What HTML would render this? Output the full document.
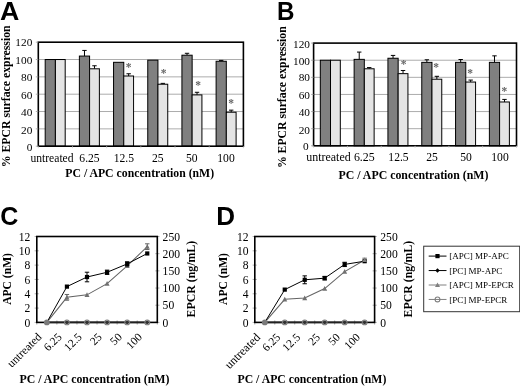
<!DOCTYPE html>
<html lang="en">
<head>
<meta charset="utf-8">
<title>EPCR surface expression and MP-APC / MP-EPCR release</title>
<style>
html,body{margin:0;padding:0;background:#fff;}
body{width:520px;height:387px;overflow:hidden;}
svg{display:block;}
text{font-family:"Liberation Serif",serif;font-size:11.6px;fill:#000;}
text.b{font-weight:bold;}
text.p{font-family:"Liberation Sans",sans-serif;font-weight:bold;}
</style>
</head>
<body>
<svg width="520" height="387" viewBox="0 0 520 387">
<defs><filter id="soft" x="0" y="0" width="520" height="387" filterUnits="userSpaceOnUse"><feGaussianBlur stdDeviation="0.4"/></filter></defs>
<rect x="0" y="0" width="520" height="387" fill="#fff"/>
<g filter="url(#soft)">
<text class="p" style="font-size:25px" transform="translate(0.10 19.60) scale(1.07 1)">A</text>
<line x1="38.30" y1="128.87" x2="243.40" y2="128.87" stroke="#acacac" stroke-width="1"/>
<line x1="38.30" y1="111.53" x2="243.40" y2="111.53" stroke="#acacac" stroke-width="1"/>
<line x1="38.30" y1="94.20" x2="243.40" y2="94.20" stroke="#acacac" stroke-width="1"/>
<line x1="38.30" y1="76.87" x2="243.40" y2="76.87" stroke="#acacac" stroke-width="1"/>
<line x1="38.30" y1="59.53" x2="243.40" y2="59.53" stroke="#acacac" stroke-width="1"/>
<rect x="45.19" y="59.53" width="10.20" height="86.67" fill="#808080" stroke="#000" stroke-width="1"/>
<rect x="55.39" y="59.53" width="9.80" height="86.67" fill="#e4e4e4" stroke="#000" stroke-width="1"/>
<line x1="84.47" y1="56.07" x2="84.47" y2="50.43" stroke="#000" stroke-width="1"/>
<line x1="82.27" y1="50.43" x2="86.67" y2="50.43" stroke="#000" stroke-width="1"/>
<rect x="79.38" y="56.07" width="10.20" height="90.13" fill="#808080" stroke="#000" stroke-width="1"/>
<line x1="94.48" y1="68.81" x2="94.48" y2="65.77" stroke="#000" stroke-width="1"/>
<line x1="92.28" y1="65.77" x2="96.68" y2="65.77" stroke="#000" stroke-width="1"/>
<rect x="89.58" y="68.81" width="9.80" height="77.39" fill="#e4e4e4" stroke="#000" stroke-width="1"/>
<rect x="113.56" y="62.31" width="10.20" height="83.89" fill="#808080" stroke="#000" stroke-width="1"/>
<line x1="128.66" y1="76.00" x2="128.66" y2="73.75" stroke="#000" stroke-width="1"/>
<line x1="126.46" y1="73.75" x2="130.86" y2="73.75" stroke="#000" stroke-width="1"/>
<rect x="123.76" y="76.00" width="9.80" height="70.20" fill="#e4e4e4" stroke="#000" stroke-width="1"/>
<rect x="147.74" y="60.14" width="10.20" height="86.06" fill="#808080" stroke="#000" stroke-width="1"/>
<line x1="162.84" y1="84.23" x2="162.84" y2="83.37" stroke="#000" stroke-width="1"/>
<line x1="160.64" y1="83.37" x2="165.04" y2="83.37" stroke="#000" stroke-width="1"/>
<rect x="157.94" y="84.23" width="9.80" height="61.97" fill="#e4e4e4" stroke="#000" stroke-width="1"/>
<line x1="187.03" y1="55.20" x2="187.03" y2="53.29" stroke="#000" stroke-width="1"/>
<line x1="184.83" y1="53.29" x2="189.22" y2="53.29" stroke="#000" stroke-width="1"/>
<rect x="181.93" y="55.20" width="10.20" height="91.00" fill="#808080" stroke="#000" stroke-width="1"/>
<line x1="197.03" y1="94.89" x2="197.03" y2="92.29" stroke="#000" stroke-width="1"/>
<line x1="194.83" y1="92.29" x2="199.22" y2="92.29" stroke="#000" stroke-width="1"/>
<rect x="192.12" y="94.89" width="9.80" height="51.31" fill="#e4e4e4" stroke="#000" stroke-width="1"/>
<line x1="221.21" y1="61.27" x2="221.21" y2="60.40" stroke="#000" stroke-width="1"/>
<line x1="219.01" y1="60.40" x2="223.41" y2="60.40" stroke="#000" stroke-width="1"/>
<rect x="216.11" y="61.27" width="10.20" height="84.93" fill="#808080" stroke="#000" stroke-width="1"/>
<line x1="231.21" y1="112.23" x2="231.21" y2="110.15" stroke="#000" stroke-width="1"/>
<line x1="229.01" y1="110.15" x2="233.41" y2="110.15" stroke="#000" stroke-width="1"/>
<rect x="226.31" y="112.23" width="9.80" height="33.97" fill="#e4e4e4" stroke="#000" stroke-width="1"/>
<text class="b" x="128.70" y="70.90" text-anchor="middle" style="font-size:11.5px;fill:#666">*</text>
<text class="b" x="163.50" y="76.90" text-anchor="middle" style="font-size:11.5px;fill:#666">*</text>
<text class="b" x="198.00" y="88.50" text-anchor="middle" style="font-size:11.5px;fill:#666">*</text>
<text class="b" x="231.20" y="106.50" text-anchor="middle" style="font-size:11.5px;fill:#666">*</text>
<rect x="38.30" y="42.20" width="205.10" height="104.00" fill="none" stroke="#000" stroke-width="1.6"/>
<line x1="35.80" y1="146.20" x2="38.30" y2="146.20" stroke="#999" stroke-width="0.8"/>
<text class="r" x="32.30" y="150.70" text-anchor="end" style="font-size:11.3px">0</text>
<line x1="35.80" y1="128.87" x2="38.30" y2="128.87" stroke="#999" stroke-width="0.8"/>
<text class="r" x="32.30" y="133.67" text-anchor="end" style="font-size:11.3px">20</text>
<line x1="35.80" y1="111.53" x2="38.30" y2="111.53" stroke="#999" stroke-width="0.8"/>
<text class="r" x="32.30" y="116.33" text-anchor="end" style="font-size:11.3px">40</text>
<line x1="35.80" y1="94.20" x2="38.30" y2="94.20" stroke="#999" stroke-width="0.8"/>
<text class="r" x="32.30" y="98.90" text-anchor="end" style="font-size:11.3px">60</text>
<line x1="35.80" y1="76.87" x2="38.30" y2="76.87" stroke="#999" stroke-width="0.8"/>
<text class="r" x="32.30" y="80.87" text-anchor="end" style="font-size:11.3px">80</text>
<line x1="35.80" y1="59.53" x2="38.30" y2="59.53" stroke="#999" stroke-width="0.8"/>
<text class="r" x="32.30" y="64.03" text-anchor="end" style="font-size:11.3px">100</text>
<line x1="35.80" y1="42.20" x2="38.30" y2="42.20" stroke="#999" stroke-width="0.8"/>
<text class="r" x="32.30" y="46.40" text-anchor="end" style="font-size:11.3px">120</text>
<line x1="38.30" y1="146.20" x2="38.30" y2="148.20" stroke="#c8c8c8" stroke-width="0.8"/>
<line x1="72.48" y1="146.20" x2="72.48" y2="148.20" stroke="#c8c8c8" stroke-width="0.8"/>
<line x1="106.67" y1="146.20" x2="106.67" y2="148.20" stroke="#c8c8c8" stroke-width="0.8"/>
<line x1="140.85" y1="146.20" x2="140.85" y2="148.20" stroke="#c8c8c8" stroke-width="0.8"/>
<line x1="175.03" y1="146.20" x2="175.03" y2="148.20" stroke="#c8c8c8" stroke-width="0.8"/>
<line x1="209.22" y1="146.20" x2="209.22" y2="148.20" stroke="#c8c8c8" stroke-width="0.8"/>
<line x1="243.40" y1="146.20" x2="243.40" y2="148.20" stroke="#c8c8c8" stroke-width="0.8"/>
<text class="r" x="52.00" y="161.90" text-anchor="middle">untreated</text>
<text class="r" x="89.50" y="161.90" text-anchor="middle">6.25</text>
<text class="r" x="123.80" y="161.90" text-anchor="middle">12.5</text>
<text class="r" x="157.80" y="161.90" text-anchor="middle">25</text>
<text class="r" x="191.80" y="161.90" text-anchor="middle">50</text>
<text class="r" x="226.00" y="161.90" text-anchor="middle">100</text>
<text class="b" x="65.30" y="177.20" style="font-size:11.75px">PC / APC concentration (nM)</text>
<text class="b" x="10.20" y="96.30" text-anchor="middle" style="font-size:11.75px" transform="rotate(-90 10.20 96.30)">% EPCR surface expression</text>
<text class="p" style="font-size:25px" transform="translate(277.00 19.60) scale(0.97 1)">B</text>
<line x1="313.60" y1="128.68" x2="516.50" y2="128.68" stroke="#acacac" stroke-width="1"/>
<line x1="313.60" y1="111.57" x2="516.50" y2="111.57" stroke="#acacac" stroke-width="1"/>
<line x1="313.60" y1="94.45" x2="516.50" y2="94.45" stroke="#acacac" stroke-width="1"/>
<line x1="313.60" y1="77.33" x2="516.50" y2="77.33" stroke="#acacac" stroke-width="1"/>
<line x1="313.60" y1="60.22" x2="516.50" y2="60.22" stroke="#acacac" stroke-width="1"/>
<rect x="320.31" y="60.22" width="10.20" height="85.58" fill="#808080" stroke="#000" stroke-width="1"/>
<rect x="330.51" y="60.22" width="9.80" height="85.58" fill="#e4e4e4" stroke="#000" stroke-width="1"/>
<line x1="359.23" y1="59.36" x2="359.23" y2="52.09" stroke="#000" stroke-width="1"/>
<line x1="357.03" y1="52.09" x2="361.43" y2="52.09" stroke="#000" stroke-width="1"/>
<rect x="354.13" y="59.36" width="10.20" height="86.44" fill="#808080" stroke="#000" stroke-width="1"/>
<line x1="369.23" y1="68.78" x2="369.23" y2="67.58" stroke="#000" stroke-width="1"/>
<line x1="367.03" y1="67.58" x2="371.43" y2="67.58" stroke="#000" stroke-width="1"/>
<rect x="364.33" y="68.78" width="9.80" height="77.03" fill="#e4e4e4" stroke="#000" stroke-width="1"/>
<line x1="393.04" y1="58.25" x2="393.04" y2="55.42" stroke="#000" stroke-width="1"/>
<line x1="390.84" y1="55.42" x2="395.24" y2="55.42" stroke="#000" stroke-width="1"/>
<rect x="387.94" y="58.25" width="10.20" height="87.55" fill="#808080" stroke="#000" stroke-width="1"/>
<line x1="403.04" y1="73.65" x2="403.04" y2="70.49" stroke="#000" stroke-width="1"/>
<line x1="400.84" y1="70.49" x2="405.24" y2="70.49" stroke="#000" stroke-width="1"/>
<rect x="398.14" y="73.65" width="9.80" height="72.15" fill="#e4e4e4" stroke="#000" stroke-width="1"/>
<line x1="426.86" y1="62.36" x2="426.86" y2="59.79" stroke="#000" stroke-width="1"/>
<line x1="424.66" y1="59.79" x2="429.06" y2="59.79" stroke="#000" stroke-width="1"/>
<rect x="421.76" y="62.36" width="10.20" height="83.44" fill="#808080" stroke="#000" stroke-width="1"/>
<line x1="436.86" y1="79.22" x2="436.86" y2="76.31" stroke="#000" stroke-width="1"/>
<line x1="434.66" y1="76.31" x2="439.06" y2="76.31" stroke="#000" stroke-width="1"/>
<rect x="431.96" y="79.22" width="9.80" height="66.58" fill="#e4e4e4" stroke="#000" stroke-width="1"/>
<line x1="460.68" y1="62.36" x2="460.68" y2="59.53" stroke="#000" stroke-width="1"/>
<line x1="458.48" y1="59.53" x2="462.88" y2="59.53" stroke="#000" stroke-width="1"/>
<rect x="455.57" y="62.36" width="10.20" height="83.44" fill="#808080" stroke="#000" stroke-width="1"/>
<line x1="470.67" y1="82.04" x2="470.67" y2="80.07" stroke="#000" stroke-width="1"/>
<line x1="468.47" y1="80.07" x2="472.87" y2="80.07" stroke="#000" stroke-width="1"/>
<rect x="465.77" y="82.04" width="9.80" height="63.76" fill="#e4e4e4" stroke="#000" stroke-width="1"/>
<line x1="494.49" y1="62.36" x2="494.49" y2="55.85" stroke="#000" stroke-width="1"/>
<line x1="492.29" y1="55.85" x2="496.69" y2="55.85" stroke="#000" stroke-width="1"/>
<rect x="489.39" y="62.36" width="10.20" height="83.44" fill="#808080" stroke="#000" stroke-width="1"/>
<line x1="504.49" y1="101.98" x2="504.49" y2="99.41" stroke="#000" stroke-width="1"/>
<line x1="502.29" y1="99.41" x2="506.69" y2="99.41" stroke="#000" stroke-width="1"/>
<rect x="499.59" y="101.98" width="9.80" height="43.82" fill="#e4e4e4" stroke="#000" stroke-width="1"/>
<text class="b" x="403.50" y="67.50" text-anchor="middle" style="font-size:11.5px;fill:#666">*</text>
<text class="b" x="436.00" y="70.90" text-anchor="middle" style="font-size:11.5px;fill:#666">*</text>
<text class="b" x="470.20" y="77.10" text-anchor="middle" style="font-size:11.5px;fill:#666">*</text>
<text class="b" x="504.40" y="94.60" text-anchor="middle" style="font-size:11.5px;fill:#666">*</text>
<rect x="313.60" y="43.10" width="202.90" height="102.70" fill="none" stroke="#000" stroke-width="1.6"/>
<line x1="311.10" y1="145.80" x2="313.60" y2="145.80" stroke="#999" stroke-width="0.8"/>
<text class="r" x="308.60" y="150.00" text-anchor="end" style="font-size:11.3px">0</text>
<line x1="311.10" y1="128.68" x2="313.60" y2="128.68" stroke="#999" stroke-width="0.8"/>
<text class="r" x="310.00" y="133.68" text-anchor="end" style="font-size:11.3px">20</text>
<line x1="311.10" y1="111.57" x2="313.60" y2="111.57" stroke="#999" stroke-width="0.8"/>
<text class="r" x="310.00" y="116.37" text-anchor="end" style="font-size:11.3px">40</text>
<line x1="311.10" y1="94.45" x2="313.60" y2="94.45" stroke="#999" stroke-width="0.8"/>
<text class="r" x="310.00" y="99.25" text-anchor="end" style="font-size:11.3px">60</text>
<line x1="311.10" y1="77.33" x2="313.60" y2="77.33" stroke="#999" stroke-width="0.8"/>
<text class="r" x="310.00" y="81.33" text-anchor="end" style="font-size:11.3px">80</text>
<line x1="311.10" y1="60.22" x2="313.60" y2="60.22" stroke="#999" stroke-width="0.8"/>
<text class="r" x="310.00" y="64.72" text-anchor="end" style="font-size:11.3px">100</text>
<line x1="311.10" y1="43.10" x2="313.60" y2="43.10" stroke="#999" stroke-width="0.8"/>
<text class="r" x="310.00" y="48.10" text-anchor="end" style="font-size:11.3px">120</text>
<line x1="313.60" y1="145.80" x2="313.60" y2="147.80" stroke="#c8c8c8" stroke-width="0.8"/>
<line x1="347.42" y1="145.80" x2="347.42" y2="147.80" stroke="#c8c8c8" stroke-width="0.8"/>
<line x1="381.23" y1="145.80" x2="381.23" y2="147.80" stroke="#c8c8c8" stroke-width="0.8"/>
<line x1="415.05" y1="145.80" x2="415.05" y2="147.80" stroke="#c8c8c8" stroke-width="0.8"/>
<line x1="448.87" y1="145.80" x2="448.87" y2="147.80" stroke="#c8c8c8" stroke-width="0.8"/>
<line x1="482.68" y1="145.80" x2="482.68" y2="147.80" stroke="#c8c8c8" stroke-width="0.8"/>
<line x1="516.50" y1="145.80" x2="516.50" y2="147.80" stroke="#c8c8c8" stroke-width="0.8"/>
<text class="r" x="328.50" y="161.20" text-anchor="middle" style="font-size:11.95px">untreated</text>
<text class="r" x="364.30" y="161.20" text-anchor="middle" style="font-size:11.9px">6.25</text>
<text class="r" x="398.50" y="161.20" text-anchor="middle">12.5</text>
<text class="r" x="432.00" y="161.20" text-anchor="middle">25</text>
<text class="r" x="466.00" y="161.20" text-anchor="middle">50</text>
<text class="r" x="500.00" y="161.20" text-anchor="middle">100</text>
<text class="b" x="338.50" y="178.60" style="font-size:11.85px">PC / APC concentration (nM)</text>
<text class="b" x="286.20" y="97.20" text-anchor="middle" style="font-size:11.75px" transform="rotate(-90 286.20 97.20)">% EPCR surface expression</text>
<text class="p" style="font-size:25px" transform="translate(0.30 225.20) scale(1.0 1)">C</text>
<line x1="34.60" y1="322.40" x2="38.80" y2="322.40" stroke="#8c8c8c" stroke-width="0.7"/>
<text class="r" x="30.30" y="326.60" text-anchor="end">0</text>
<line x1="34.60" y1="308.08" x2="38.80" y2="308.08" stroke="#8c8c8c" stroke-width="0.7"/>
<text class="r" x="30.30" y="312.28" text-anchor="end">2</text>
<line x1="34.60" y1="293.77" x2="38.80" y2="293.77" stroke="#8c8c8c" stroke-width="0.7"/>
<text class="r" x="30.30" y="297.97" text-anchor="end">4</text>
<line x1="34.60" y1="279.45" x2="38.80" y2="279.45" stroke="#8c8c8c" stroke-width="0.7"/>
<text class="r" x="30.30" y="283.65" text-anchor="end">6</text>
<line x1="34.60" y1="265.13" x2="38.80" y2="265.13" stroke="#8c8c8c" stroke-width="0.7"/>
<text class="r" x="30.30" y="269.33" text-anchor="end">8</text>
<line x1="34.60" y1="250.82" x2="38.80" y2="250.82" stroke="#8c8c8c" stroke-width="0.7"/>
<text class="r" x="30.30" y="255.02" text-anchor="end">10</text>
<line x1="34.60" y1="236.50" x2="38.80" y2="236.50" stroke="#8c8c8c" stroke-width="0.7"/>
<text class="r" x="30.30" y="240.70" text-anchor="end">12</text>
<line x1="155.30" y1="322.40" x2="159.50" y2="322.40" stroke="#8c8c8c" stroke-width="0.7"/>
<text class="r" x="162.60" y="326.60">0</text>
<line x1="155.30" y1="305.22" x2="159.50" y2="305.22" stroke="#8c8c8c" stroke-width="0.7"/>
<text class="r" x="162.60" y="309.42">50</text>
<line x1="155.30" y1="288.04" x2="159.50" y2="288.04" stroke="#8c8c8c" stroke-width="0.7"/>
<text class="r" x="162.60" y="292.24">100</text>
<line x1="155.30" y1="270.86" x2="159.50" y2="270.86" stroke="#8c8c8c" stroke-width="0.7"/>
<text class="r" x="162.60" y="275.06">150</text>
<line x1="155.30" y1="253.68" x2="159.50" y2="253.68" stroke="#8c8c8c" stroke-width="0.7"/>
<text class="r" x="162.60" y="257.88">200</text>
<line x1="155.30" y1="236.50" x2="159.50" y2="236.50" stroke="#8c8c8c" stroke-width="0.7"/>
<text class="r" x="162.60" y="240.70">250</text>
<line x1="36.80" y1="320.40" x2="36.80" y2="324.60" stroke="#8c8c8c" stroke-width="0.7"/>
<line x1="56.88" y1="320.40" x2="56.88" y2="324.60" stroke="#8c8c8c" stroke-width="0.7"/>
<line x1="76.97" y1="320.40" x2="76.97" y2="324.60" stroke="#8c8c8c" stroke-width="0.7"/>
<line x1="97.05" y1="320.40" x2="97.05" y2="324.60" stroke="#8c8c8c" stroke-width="0.7"/>
<line x1="117.13" y1="320.40" x2="117.13" y2="324.60" stroke="#8c8c8c" stroke-width="0.7"/>
<line x1="137.22" y1="320.40" x2="137.22" y2="324.60" stroke="#8c8c8c" stroke-width="0.7"/>
<line x1="157.30" y1="320.40" x2="157.30" y2="324.60" stroke="#8c8c8c" stroke-width="0.7"/>
<rect x="36.80" y="236.50" width="120.50" height="85.90" fill="none" stroke="#000" stroke-width="1.6"/>
<line x1="46.84" y1="322.40" x2="147.26" y2="322.40" stroke="#222" stroke-width="1.7"/>
<polyline points="46.84,322.40 66.92,297.35 87.01,294.84 107.09,283.60 127.18,265.85 147.26,246.66" fill="none" stroke="#646464" stroke-width="1.05"/>
<line x1="66.92" y1="300.21" x2="66.92" y2="294.48" stroke="#646464" stroke-width="1"/>
<line x1="64.72" y1="294.48" x2="69.12" y2="294.48" stroke="#646464" stroke-width="1"/>
<line x1="64.72" y1="300.21" x2="69.12" y2="300.21" stroke="#646464" stroke-width="1"/>
<path d="M64.42 299.45L66.92 294.85L69.42 299.45Z" fill="#707070"/>
<path d="M84.51 296.94L87.01 292.34L89.51 296.94Z" fill="#707070"/>
<path d="M104.59 285.70L107.09 281.10L109.59 285.70Z" fill="#707070"/>
<path d="M124.68 267.95L127.18 263.35L129.68 267.95Z" fill="#707070"/>
<line x1="147.26" y1="249.53" x2="147.26" y2="243.80" stroke="#646464" stroke-width="1"/>
<line x1="145.06" y1="243.80" x2="149.46" y2="243.80" stroke="#646464" stroke-width="1"/>
<line x1="145.06" y1="249.53" x2="149.46" y2="249.53" stroke="#646464" stroke-width="1"/>
<path d="M144.76 248.76L147.26 244.16L149.76 248.76Z" fill="#707070"/>
<polyline points="46.84,322.40 66.92,286.61 87.01,277.02 107.09,272.29 127.18,263.92 147.26,253.47" fill="none" stroke="#000" stroke-width="1"/>
<rect x="64.83" y="284.51" width="4.2" height="4.2" fill="#000"/>
<line x1="87.01" y1="281.81" x2="87.01" y2="272.22" stroke="#000" stroke-width="1"/>
<line x1="84.81" y1="272.22" x2="89.21" y2="272.22" stroke="#000" stroke-width="1"/>
<line x1="84.81" y1="281.81" x2="89.21" y2="281.81" stroke="#000" stroke-width="1"/>
<rect x="84.91" y="274.92" width="4.2" height="4.2" fill="#000"/>
<line x1="107.09" y1="274.44" x2="107.09" y2="270.14" stroke="#000" stroke-width="1"/>
<line x1="104.89" y1="270.14" x2="109.29" y2="270.14" stroke="#000" stroke-width="1"/>
<line x1="104.89" y1="274.44" x2="109.29" y2="274.44" stroke="#000" stroke-width="1"/>
<rect x="104.99" y="270.19" width="4.2" height="4.2" fill="#000"/>
<line x1="127.18" y1="266.06" x2="127.18" y2="261.77" stroke="#000" stroke-width="1"/>
<line x1="124.98" y1="261.77" x2="129.38" y2="261.77" stroke="#000" stroke-width="1"/>
<line x1="124.98" y1="266.06" x2="129.38" y2="266.06" stroke="#000" stroke-width="1"/>
<rect x="125.08" y="261.82" width="4.2" height="4.2" fill="#000"/>
<rect x="145.16" y="251.37" width="4.2" height="4.2" fill="#000"/>
<circle cx="46.84" cy="322.40" r="2.9" fill="#7a7a7a"/>
<path d="M64.72 322.40L66.92 320.20L69.12 322.40L66.92 324.60Z" fill="#333"/>
<circle cx="66.92" cy="322.40" r="2.4" fill="none" stroke="#7c7c7c" stroke-width="1.1"/>
<path d="M84.81 322.40L87.01 320.20L89.21 322.40L87.01 324.60Z" fill="#333"/>
<circle cx="87.01" cy="322.40" r="2.4" fill="none" stroke="#7c7c7c" stroke-width="1.1"/>
<path d="M104.89 322.40L107.09 320.20L109.29 322.40L107.09 324.60Z" fill="#333"/>
<circle cx="107.09" cy="322.40" r="2.4" fill="none" stroke="#7c7c7c" stroke-width="1.1"/>
<path d="M124.98 322.40L127.18 320.20L129.38 322.40L127.18 324.60Z" fill="#333"/>
<circle cx="127.18" cy="322.40" r="2.4" fill="none" stroke="#7c7c7c" stroke-width="1.1"/>
<path d="M145.06 322.40L147.26 320.20L149.46 322.40L147.26 324.60Z" fill="#333"/>
<circle cx="147.26" cy="322.40" r="2.4" fill="none" stroke="#7c7c7c" stroke-width="1.1"/>
<text class="r" x="42.34" y="337.60" text-anchor="end" transform="rotate(-45 42.34 337.60)">untreated</text>
<text class="r" x="62.42" y="337.60" text-anchor="end" style="font-size:11.4px" transform="rotate(-45 62.42 337.60)">6.25</text>
<text class="r" x="82.51" y="337.60" text-anchor="end" style="font-size:11.4px" transform="rotate(-45 82.51 337.60)">12.5</text>
<text class="r" x="102.59" y="337.60" text-anchor="end" style="font-size:11.4px" transform="rotate(-45 102.59 337.60)">25</text>
<text class="r" x="122.68" y="337.60" text-anchor="end" style="font-size:11.4px" transform="rotate(-45 122.68 337.60)">50</text>
<text class="r" x="142.76" y="337.60" text-anchor="end" style="font-size:11.4px" transform="rotate(-45 142.76 337.60)">100</text>
<text class="b" x="19.50" y="382.80" style="font-size:11.85px">PC / APC concentration (nM)</text>
<text class="b" x="10.80" y="278.95" text-anchor="middle" transform="rotate(-90 10.80 278.95)">APC (nM)</text>
<text class="b" x="194.60" y="279.15" text-anchor="middle" style="font-size:11.85px" transform="rotate(-90 194.60 279.15)">EPCR (ng/mL)</text>
<text class="p" style="font-size:25px" transform="translate(216.30 225.20) scale(1.04 1)">D</text>
<line x1="252.60" y1="322.40" x2="256.80" y2="322.40" stroke="#8c8c8c" stroke-width="0.7"/>
<text class="r" x="248.60" y="326.60" text-anchor="end">0</text>
<line x1="252.60" y1="308.08" x2="256.80" y2="308.08" stroke="#8c8c8c" stroke-width="0.7"/>
<text class="r" x="248.60" y="312.28" text-anchor="end">2</text>
<line x1="252.60" y1="293.77" x2="256.80" y2="293.77" stroke="#8c8c8c" stroke-width="0.7"/>
<text class="r" x="248.60" y="297.97" text-anchor="end">4</text>
<line x1="252.60" y1="279.45" x2="256.80" y2="279.45" stroke="#8c8c8c" stroke-width="0.7"/>
<text class="r" x="248.60" y="283.65" text-anchor="end">6</text>
<line x1="252.60" y1="265.13" x2="256.80" y2="265.13" stroke="#8c8c8c" stroke-width="0.7"/>
<text class="r" x="248.60" y="269.33" text-anchor="end">8</text>
<line x1="252.60" y1="250.82" x2="256.80" y2="250.82" stroke="#8c8c8c" stroke-width="0.7"/>
<text class="r" x="248.60" y="255.02" text-anchor="end">10</text>
<line x1="252.60" y1="236.50" x2="256.80" y2="236.50" stroke="#8c8c8c" stroke-width="0.7"/>
<text class="r" x="248.60" y="240.70" text-anchor="end">12</text>
<line x1="372.60" y1="322.40" x2="376.80" y2="322.40" stroke="#8c8c8c" stroke-width="0.7"/>
<text class="r" x="380.30" y="326.60">0</text>
<line x1="372.60" y1="305.22" x2="376.80" y2="305.22" stroke="#8c8c8c" stroke-width="0.7"/>
<text class="r" x="380.30" y="309.42">50</text>
<line x1="372.60" y1="288.04" x2="376.80" y2="288.04" stroke="#8c8c8c" stroke-width="0.7"/>
<text class="r" x="380.30" y="292.24">100</text>
<line x1="372.60" y1="270.86" x2="376.80" y2="270.86" stroke="#8c8c8c" stroke-width="0.7"/>
<text class="r" x="380.30" y="275.06">150</text>
<line x1="372.60" y1="253.68" x2="376.80" y2="253.68" stroke="#8c8c8c" stroke-width="0.7"/>
<text class="r" x="380.30" y="257.88">200</text>
<line x1="372.60" y1="236.50" x2="376.80" y2="236.50" stroke="#8c8c8c" stroke-width="0.7"/>
<text class="r" x="380.30" y="240.70">250</text>
<line x1="254.80" y1="320.40" x2="254.80" y2="324.60" stroke="#8c8c8c" stroke-width="0.7"/>
<line x1="274.77" y1="320.40" x2="274.77" y2="324.60" stroke="#8c8c8c" stroke-width="0.7"/>
<line x1="294.73" y1="320.40" x2="294.73" y2="324.60" stroke="#8c8c8c" stroke-width="0.7"/>
<line x1="314.70" y1="320.40" x2="314.70" y2="324.60" stroke="#8c8c8c" stroke-width="0.7"/>
<line x1="334.67" y1="320.40" x2="334.67" y2="324.60" stroke="#8c8c8c" stroke-width="0.7"/>
<line x1="354.63" y1="320.40" x2="354.63" y2="324.60" stroke="#8c8c8c" stroke-width="0.7"/>
<line x1="374.60" y1="320.40" x2="374.60" y2="324.60" stroke="#8c8c8c" stroke-width="0.7"/>
<rect x="254.80" y="236.50" width="119.80" height="85.90" fill="none" stroke="#000" stroke-width="1.6"/>
<line x1="264.78" y1="322.40" x2="364.62" y2="322.40" stroke="#222" stroke-width="1.7"/>
<polyline points="264.78,322.40 284.75,299.35 304.72,298.06 324.68,288.54 344.65,271.58 364.62,259.98" fill="none" stroke="#646464" stroke-width="1.05"/>
<path d="M282.25 301.45L284.75 296.85L287.25 301.45Z" fill="#707070"/>
<path d="M302.22 300.16L304.72 295.56L307.22 300.16Z" fill="#707070"/>
<path d="M322.18 290.64L324.68 286.04L327.18 290.64Z" fill="#707070"/>
<path d="M342.15 273.68L344.65 269.08L347.15 273.68Z" fill="#707070"/>
<line x1="364.62" y1="261.77" x2="364.62" y2="258.19" stroke="#646464" stroke-width="1"/>
<line x1="362.42" y1="258.19" x2="366.82" y2="258.19" stroke="#646464" stroke-width="1"/>
<line x1="362.42" y1="261.77" x2="366.82" y2="261.77" stroke="#646464" stroke-width="1"/>
<path d="M362.12 262.08L364.62 257.48L367.12 262.08Z" fill="#707070"/>
<polyline points="264.78,322.40 284.75,289.61 304.72,279.81 324.68,278.16 344.65,264.42 364.62,261.20" fill="none" stroke="#000" stroke-width="1"/>
<rect x="282.65" y="287.51" width="4.2" height="4.2" fill="#000"/>
<line x1="304.72" y1="283.75" x2="304.72" y2="275.87" stroke="#000" stroke-width="1"/>
<line x1="302.52" y1="275.87" x2="306.92" y2="275.87" stroke="#000" stroke-width="1"/>
<line x1="302.52" y1="283.75" x2="306.92" y2="283.75" stroke="#000" stroke-width="1"/>
<rect x="302.62" y="277.71" width="4.2" height="4.2" fill="#000"/>
<line x1="324.68" y1="279.95" x2="324.68" y2="276.37" stroke="#000" stroke-width="1"/>
<line x1="322.48" y1="276.37" x2="326.88" y2="276.37" stroke="#000" stroke-width="1"/>
<line x1="322.48" y1="279.95" x2="326.88" y2="279.95" stroke="#000" stroke-width="1"/>
<rect x="322.58" y="276.06" width="4.2" height="4.2" fill="#000"/>
<line x1="344.65" y1="266.56" x2="344.65" y2="262.27" stroke="#000" stroke-width="1"/>
<line x1="342.45" y1="262.27" x2="346.85" y2="262.27" stroke="#000" stroke-width="1"/>
<line x1="342.45" y1="266.56" x2="346.85" y2="266.56" stroke="#000" stroke-width="1"/>
<rect x="342.55" y="262.32" width="4.2" height="4.2" fill="#000"/>
<rect x="362.52" y="259.10" width="4.2" height="4.2" fill="#000"/>
<path d="M362.12 262.08L364.62 257.48L367.12 262.08Z" fill="#808080"/>
<circle cx="264.78" cy="322.40" r="2.9" fill="#7a7a7a"/>
<path d="M282.55 322.40L284.75 320.20L286.95 322.40L284.75 324.60Z" fill="#333"/>
<circle cx="284.75" cy="322.40" r="2.4" fill="none" stroke="#7c7c7c" stroke-width="1.1"/>
<path d="M302.52 322.40L304.72 320.20L306.92 322.40L304.72 324.60Z" fill="#333"/>
<circle cx="304.72" cy="322.40" r="2.4" fill="none" stroke="#7c7c7c" stroke-width="1.1"/>
<path d="M322.48 322.40L324.68 320.20L326.88 322.40L324.68 324.60Z" fill="#333"/>
<circle cx="324.68" cy="322.40" r="2.4" fill="none" stroke="#7c7c7c" stroke-width="1.1"/>
<path d="M342.45 322.40L344.65 320.20L346.85 322.40L344.65 324.60Z" fill="#333"/>
<circle cx="344.65" cy="322.40" r="2.4" fill="none" stroke="#7c7c7c" stroke-width="1.1"/>
<path d="M362.42 322.40L364.62 320.20L366.82 322.40L364.62 324.60Z" fill="#333"/>
<circle cx="364.62" cy="322.40" r="2.4" fill="none" stroke="#7c7c7c" stroke-width="1.1"/>
<text class="r" x="260.98" y="338.00" text-anchor="end" style="font-size:12.0px" transform="rotate(-45 260.98 338.00)">untreated</text>
<text class="r" x="280.95" y="338.00" text-anchor="end" style="font-size:11.4px" transform="rotate(-45 280.95 338.00)">6.25</text>
<text class="r" x="300.92" y="338.00" text-anchor="end" style="font-size:11.4px" transform="rotate(-45 300.92 338.00)">12.5</text>
<text class="r" x="320.88" y="338.00" text-anchor="end" style="font-size:11.4px" transform="rotate(-45 320.88 338.00)">25</text>
<text class="r" x="340.85" y="338.00" text-anchor="end" style="font-size:11.4px" transform="rotate(-45 340.85 338.00)">50</text>
<text class="r" x="360.82" y="338.00" text-anchor="end" style="font-size:11.4px" transform="rotate(-45 360.82 338.00)">100</text>
<text class="b" x="237.50" y="383.20" style="font-size:11.75px">PC / APC concentration (nM)</text>
<text class="b" x="227.30" y="278.95" text-anchor="middle" transform="rotate(-90 227.30 278.95)">APC (nM)</text>
<text class="b" x="412.40" y="279.15" text-anchor="middle" style="font-size:11.85px" transform="rotate(-90 412.40 279.15)">EPCR (ng/mL)</text>
<rect x="423.70" y="246.20" width="96.00" height="65.50" fill="#fff" stroke="#333" stroke-width="1"/>
<line x1="428.70" y1="256.10" x2="446.50" y2="256.10" stroke="#000" stroke-width="1"/>
<rect x="435.40" y="254.00" width="4.2" height="4.2" fill="#000"/>
<text class="r" x="449.20" y="259.20" style="font-size:9.05px">[APC] MP-APC</text>
<line x1="428.70" y1="270.55" x2="446.50" y2="270.55" stroke="#000" stroke-width="1"/>
<path d="M435.30 270.55L437.50 268.35L439.70 270.55L437.50 272.75Z" fill="#000"/>
<text class="r" x="449.20" y="273.65" style="font-size:9.05px">[PC] MP-APC</text>
<line x1="428.70" y1="285.00" x2="446.50" y2="285.00" stroke="#808080" stroke-width="1"/>
<path d="M435.00 287.10L437.50 282.50L440.00 287.10Z" fill="#808080"/>
<text class="r" x="449.20" y="288.10" style="font-size:9.05px">[APC] MP-EPCR</text>
<line x1="428.70" y1="299.45" x2="446.50" y2="299.45" stroke="#808080" stroke-width="1"/>
<circle cx="437.50" cy="299.45" r="2.4" fill="none" stroke="#808080" stroke-width="1.1"/>
<text class="r" x="449.20" y="302.55" style="font-size:9.05px">[PC] MP-EPCR</text>
</g>
</svg>
</body>
</html>
